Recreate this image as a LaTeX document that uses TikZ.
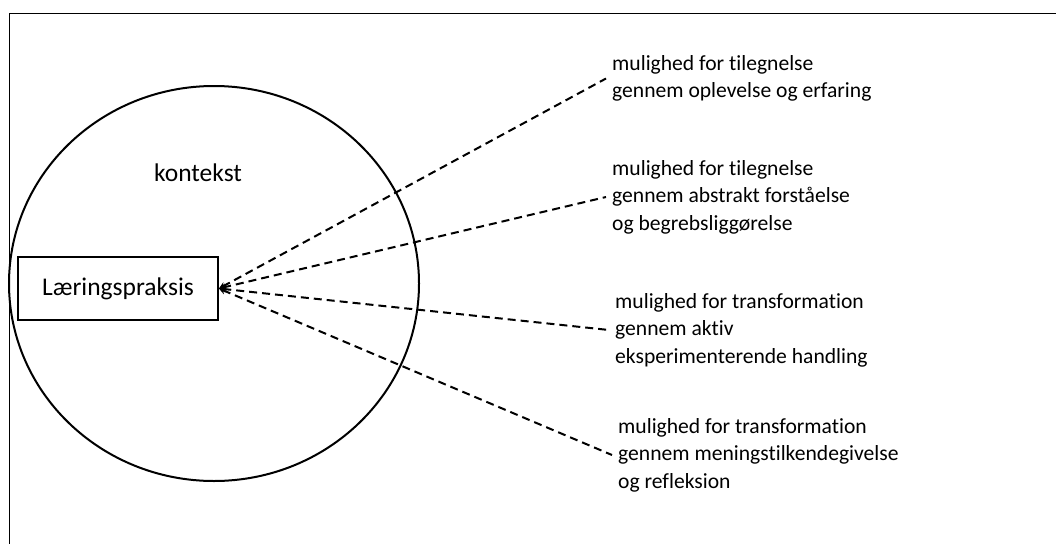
\documentclass[tikz,border=0pt]{standalone}
\usepackage{fontspec}
\setmainfont{Carlito}[Ligatures=CommonOff]
\usepackage{tikz}
\usetikzlibrary{positioning}
\usetikzlibrary{shapes.geometric}

\begin{document}
\begin{tikzpicture}[
                x=1pt, y=-1pt, >=stealth,
                ringnode/.style={ellipse, draw, line width=2pt, inner sep=0pt, minimum width=410pt, minimum height=395pt},
                boxnode/.style={rectangle, draw, line width=1.8pt, minimum width=200pt, minimum height=63pt, font=\fontsize{25.5}{30}\selectfont},
                infonode/.style={align=left, anchor=west, inner sep=6pt, font=\fontsize{21.6}{27.5}\selectfont},
                dashedline/.style={line width=2pt, dash pattern=on 8pt off 5pt},
            ]
            \useasboundingbox[clip] (0,0) rectangle (1056,543);
            \draw[line width=1.4pt] (9.5,600) -- (9.5,13.5) -- (1100,13.5);

            % Nodes
            \node[ringnode]         (context)       at (214,283.5)      {};
            \node[font=\fontsize{25.5}{30}\selectfont] (context_label) at (198,173) {kontekst};
            \node[boxnode]          (practice)      at (118,288.5)      {Læringspraksis};

            \node[infonode]         (exp_info)      at (606,78.5)       {mulighed for tilegnelse\\gennem oplevelse og erfaring};
            \node[infonode]         (abs_info)      at (606,197)        {mulighed for tilegnelse\\gennem abstrakt forståelse\\og begrebsliggørelse};
            \node[infonode]         (act_info)      at (609,330)        {mulighed for transformation\\gennem aktiv\\eksperimenterende handling};
            \node[infonode]         (refl_info)     at (612,455)        {mulighed for transformation\\gennem meningstilkendegivelse\\og refleksion};

            %Lines
            \draw[dashedline, <-] (practice.east) -- (exp_info.west);
            \draw[dashedline, <-] (practice.east) -- (abs_info.west);
            \draw[dashedline, <-] (practice.east) -- (act_info.west);
            \draw[dashedline, <-] (practice.east) -- (refl_info.west);
        \end{tikzpicture}
\end{document}
